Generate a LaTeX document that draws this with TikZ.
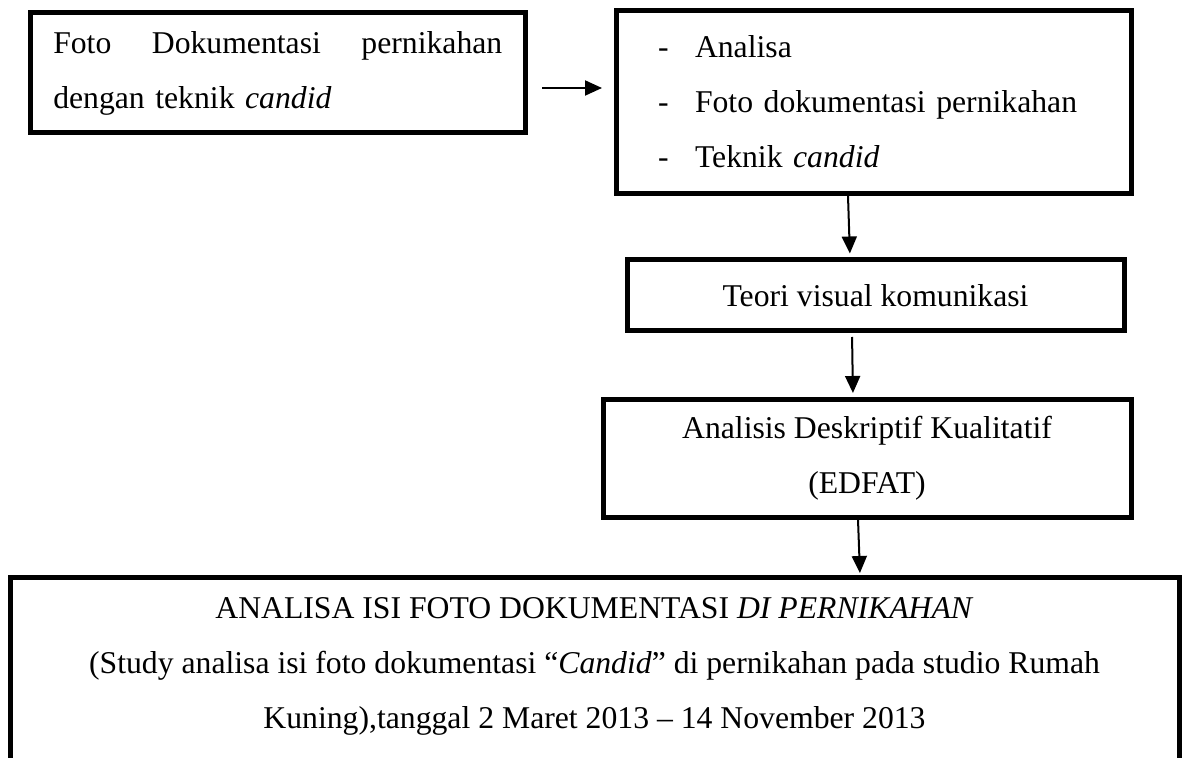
\documentclass[tikz,border=0pt]{standalone}
\usepackage{fontspec}
\setmainfont{Liberation Serif}
\usetikzlibrary{arrows.meta}

\begin{document}
\begin{tikzpicture}[x=0.5pt,y=-0.5pt,
    teks/.style={font=\fontsize{15.85}{27.5}\selectfont},
    kotak/.style={teks,draw,line width=2.5pt,inner sep=0pt},
    panah/.style={-{Triangle[length=8.5pt,width=7.5pt]},line width=1pt}]
    \useasboundingbox (0,0) rectangle (1182,758);
    \clip (0,0) rectangle (1182,758); % the last box runs off the page

    \node[kotak,minimum width=247.25pt,minimum height=60pt,text width=224.5pt,align=left] (foto) at (277.75,73)
        {Foto\hfill Dokumentasi\hfill pernikahan\\dengan teknik \textit{candid}};
    \node[kotak,minimum width=257.5pt,minimum height=91.5pt,text width=215.5pt,align=left] (analisa) at (873.5,102)
        {\makebox[18.5pt][l]{-}Analisa\\
         \makebox[18.5pt][l]{-}Foto dokumentasi pernikahan\\
         \makebox[18.5pt][l]{-}Teknik \textit{candid}};
    \node[kotak,minimum width=248.5pt,minimum height=35.5pt] (teori) at (875.5,295.5) {Teori visual komunikasi};
    \node[kotak,minimum width=264pt,minimum height=58.5pt,align=center] (deskriptif) at (867,458.5)
        {Analisis Deskriptif Kualitatif\\(EDFAT)};
    \node[kotak,minimum width=584.5pt,minimum height=111.5pt] (hasil) at (594.5,688.5) {};
    \node[teks,align=center] (judul) at (594.5,666)
        {ANALISA ISI FOTO DOKUMENTASI \textit{DI PERNIKAHAN}\\
         (Study analisa isi foto dokumentasi “\textit{Candid}” di pernikahan pada studio Rumah\\
         Kuning),tanggal 2 Maret 2013 -- 14 November 2013};

    \draw[panah,shorten <=7.25pt,shorten >=5.75pt] ([yshift=-7.5pt]foto.east) -- ([yshift=-7.5pt]foto.east -| analisa.west);
    \draw[panah,shorten >=2pt] ([xshift=-12.75pt]analisa.south) -- ([xshift=-12.75pt]teori.north);
    \draw[panah,shorten <=1.75pt,shorten >=2.25pt] ([xshift=-11.75pt]teori.south) -- ([xshift=-7pt]deskriptif.north);
    \draw[panah,shorten >=0.75pt] ([xshift=-4.5pt]deskriptif.south) -- ([xshift=132.75pt]hasil.north);
\end{tikzpicture}
\end{document}
